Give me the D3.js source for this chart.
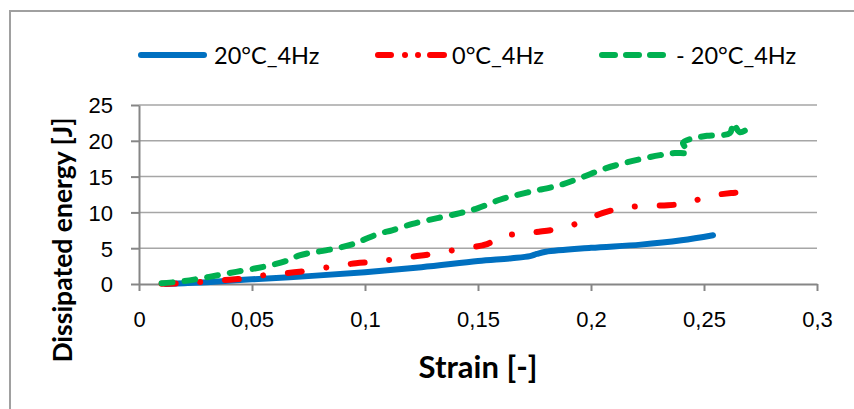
<!DOCTYPE html>
<html>
<head>
<meta charset="utf-8">
<script src="https://cdn.jsdelivr.net/npm/d3@7"></script>
<style>
  body { margin: 0; background: #fff; }
  svg { display: block; font-family: Lato, "Open Sans", sans-serif; }
  .axis path, .axis line { stroke: #868686; stroke-width: 2; }
  .axis text { font-size: 22px; fill: #000; }
  .grid line { stroke: #a6a6a6; stroke-width: 1.5; }
</style>
</head>
<body>
<svg width="854" height="409"></svg>
<script>
// series: [strain, dissipated energy]
var blue = [[0.012,0],[0.02,0.1],[0.03,0.25],[0.05,0.65],[0.075,1.1],[0.1,1.65],[0.125,2.35],
  [0.15,3.2],[0.165,3.6],[0.173,3.9],[0.176,4.2],[0.18,4.5],[0.2,5.05],[0.222,5.5],[0.24,6.1],[0.254,6.8]];
var red = [[0.010,0.05],[0.018,0.1],[0.028,0.3],[0.04,0.6],[0.047,0.8],[0.057,1.3],[0.071,1.7],
  [0.085,2.4],[0.096,2.9],[0.104,3.1],[0.114,3.5],[0.123,3.9],[0.132,4.3],[0.142,4.9],[0.152,5.4],
  [0.155,5.7],[0.157,6.3],[0.16,6.7],[0.168,7.0],[0.177,7.3],[0.187,7.8],[0.196,8.7],[0.205,9.9],
  [0.214,10.6],[0.223,10.9],[0.234,11.0],[0.243,11.3],[0.251,12.2],[0.262,12.7],[0.270,12.9]];
var green = [[0.010,0.1],[0.020,0.4],[0.031,1.0],[0.043,1.7],[0.055,2.4],[0.065,3.2],[0.071,4.0],
  [0.086,4.9],[0.095,5.6],[0.101,6.4],[0.107,7.1],[0.112,7.5],[0.121,8.4],[0.132,9.2],[0.142,9.9],
  [0.150,10.6],[0.160,11.8],[0.172,12.8],[0.186,13.8],[0.196,14.9],[0.205,16.0],[0.216,17.0],
  [0.2305,18.0],[0.237,18.3],[0.243,18.4],[0.2407,19.7],[0.2447,20.3],[0.2513,20.7],[0.2615,21.1],
  [0.2628,22.5],[0.2659,21.2],[0.2704,21.9]];

var seriesNames = ["20°C_4Hz", "0°C_4Hz", "- 20°C_4Hz"];
var xTicks = [0, 0.05, 0.1, 0.15, 0.2, 0.25, 0.3];
var yTicks = [0, 5, 10, 15, 20, 25];

var svg = d3.select("svg");

var x = d3.scaleLinear().domain([0, 0.3]).range([139, 817]),
    y = d3.scaleLinear().domain([0, 25]).range([284, 105]);

// chart border (top and left only visible)
svg.append("path")
    .attr("d", "M10,409V11H854")
    .attr("fill", "none")
    .attr("stroke", "#a0a0a0")
    .attr("stroke-width", 2);

// gridlines
svg.append("g")
    .attr("class", "grid")
  .selectAll("line")
  .data(yTicks.slice(1))
  .enter().append("line")
    .attr("x1", x(0)).attr("x2", x(0.3))
    .attr("y1", function(d) { return y(d); })
    .attr("y2", function(d) { return y(d); });

var comma = d3.formatLocale({decimal: ",", thousands: ".", grouping: [3], currency: ["", ""]});

svg.append("g")
    .attr("class", "axis x")
    .attr("transform", "translate(0," + y(0) + ")")
    .call(d3.axisBottom(x).tickValues(xTicks).tickSize(7).tickSizeOuter(0)
      .tickFormat(function(d) { return d === 0 ? "0" : comma.format("~g")(d); }))
    .call(function(g) { g.selectAll("text").attr("dy", "1.5em"); });

svg.append("g")
    .attr("class", "axis y")
    .attr("transform", "translate(" + x(0) + ",0)")
    .call(d3.axisLeft(y).tickValues(yTicks).tickSize(8).tickSizeOuter(0))
    .call(function(g) { g.selectAll("text").attr("x", -26).attr("dy", "0.36em"); });

// axis titles
svg.append("text")
    .attr("transform", "translate(72,240) rotate(-90)")
    .attr("text-anchor", "middle")
    .style("font-weight", "bold")
    .style("font-size", "26.5px")
    .text("Dissipated energy [J]");

svg.append("text")
    .attr("x", x(0.15))
    .attr("y", 378)
    .attr("text-anchor", "middle")
    .style("font-weight", "bold")
    .style("font-size", "31px")
    .text("Strain [-]");

var line = d3.line()
    .x(function(d) { return x(d[0]); })
    .y(function(d) { return y(d[1]); })
    .curve(d3.curveCatmullRom.alpha(0.5));

var styles = [
  {data: blue, color: "#0070C0", dash: null},
  {data: red, color: "#FF0000", dash: "14,24.7,0.01,24.7"},
  {data: green, color: "#00B050", dash: "11,12"}
];

svg.selectAll(".series")
  .data(styles)
  .enter().append("path")
    .attr("class", "series")
    .attr("d", function(d) { return line(d.data); })
    .attr("fill", "none")
    .attr("stroke", function(d) { return d.color; })
    .attr("stroke-width", 6)
    .attr("stroke-linecap", "round")
    .attr("stroke-linejoin", "round")
    .attr("stroke-dasharray", function(d) { return d.dash; });

// legend: [line start, line end, text x]
var legendX = [[141, 204, 214], [378, 444, 452], [602, 666, 676]],
    legendDash = [null, "13,14,0.01,13,0.01,12,20", "13,11"];

var lg = svg.append("g").attr("class", "legend");
styles.forEach(function(s, i) {
  var p = legendX[i];
  lg.append("line")
      .attr("x1", p[0]).attr("x2", p[1])
      .attr("y1", 55).attr("y2", 55)
      .attr("stroke", s.color)
      .attr("stroke-width", 6)
      .attr("stroke-linecap", "round")
      .attr("stroke-dasharray", legendDash[i]);
  lg.append("text")
      .attr("x", p[2])
      .attr("y", 63.5)
      .style("font-size", "23.5px")
      .text(seriesNames[i]);
});
</script>
</body>
</html>
